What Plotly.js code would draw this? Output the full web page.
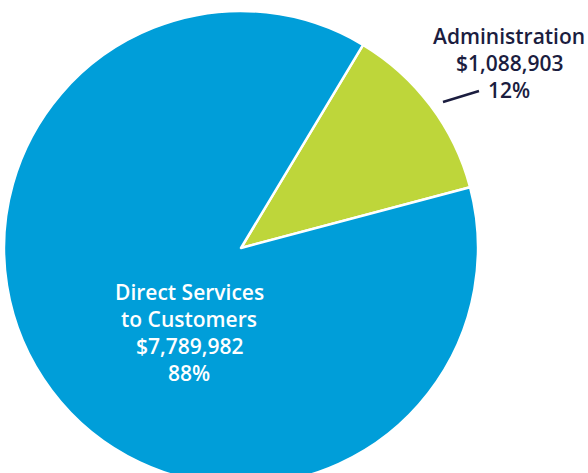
<!DOCTYPE html>
<html>
<head>
<meta charset="utf-8">
<script src="https://cdn.plot.ly/plotly-3.0.1.min.js"></script>
<style>
html,body{margin:0;padding:0;overflow:hidden;background:#fff;}
#chart{width:588px;height:500px;}
</style>
</head>
<body>
<div id="chart"></div>
<script>
const categories = ["Administration", "Direct Services to Customers"];
const amounts = [1088903, 7789982];
const amountLabels = ["$1,088,903", "$7,789,982"];
const percentLabels = ["12%", "88%"];
const colors = ["#bed63a", "#009ed9"];

const W = 588, H = 500;
const px = x => x / W;
const py = y => 1 - y / H;

const trace = {
  type: "pie",
  labels: categories,
  values: amounts,
  sort: false,
  direction: "clockwise",
  rotation: 31,
  textinfo: "none",
  hoverinfo: "label+value+percent",
  marker: {colors: colors, line: {color: "#ffffff", width: 2.5}},
  domain: {x: [px(4), px(478)], y: [py(485), py(11)]},
  showlegend: false
};

const fontBase = {family: "Open Sans, sans-serif", size: 21, weight: 600};
function ann(text, x, y, color) {
  return {text: text, x: px(x), y: py(y), xref: "paper", yref: "paper",
          showarrow: false, xanchor: "center", yanchor: "middle",
          font: Object.assign({}, fontBase, {color: color})};
}
const navy = "#1b1d3f";
const annotations = [
  ann(categories[0], 509, 36, navy),
  ann(amountLabels[0], 509, 63, navy),
  ann(percentLabels[0], 509, 90, navy),
  ann("Direct Services", 189, 292, "#ffffff"),
  ann("to Customers", 189, 319, "#ffffff"),
  ann(amountLabels[1], 189, 346, "#ffffff"),
  ann(percentLabels[1], 189, 373, "#ffffff")
];

const layout = {
  width: W, height: H,
  margin: {l: 0, r: 0, t: 0, b: 0},
  paper_bgcolor: "#ffffff",
  annotations: annotations,
  shapes: [{type: "line", xref: "paper", yref: "paper",
            x0: px(443), y0: py(102), x1: px(479), y1: py(91),
            line: {color: navy, width: 2.5}}]
};

Plotly.newPlot("chart", [trace], layout, {displayModeBar: false, staticPlot: true});
</script>
</body>
</html>
